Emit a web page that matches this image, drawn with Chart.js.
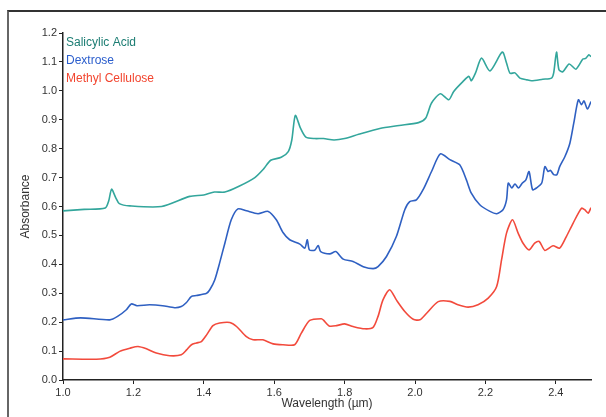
<!DOCTYPE html>
<html>
<head>
<meta charset="utf-8">
<script src="https://cdn.jsdelivr.net/npm/chart.js@4"></script>
<style>
  html, body { margin: 0; padding: 0; background: #fff; overflow: hidden; }
  #wrap { position: relative; width: 606px; height: 417px; }
  #frame { position: absolute; left: 7px; top: 10px; width: 700px; height: 500px;
           border-left: 2px solid #666; border-top: 2px solid #333; }
  canvas { position: absolute; left: 0; top: 0; }
</style>
</head>
<body>
<div id="wrap">
  <div id="frame"></div>
  <canvas id="spectra" width="606" height="417"></canvas>
</div>
<script>
// wavelength (µm) / absorbance readings
const salicylicX = [1.0, 1.06, 1.12, 1.13, 1.138, 1.15, 1.16, 1.19, 1.28, 1.36, 1.40, 1.43, 1.46, 1.50, 1.545, 1.57, 1.59, 1.62, 1.64, 1.65, 1.66, 1.675, 1.69, 1.715, 1.74, 1.77, 1.80, 1.84, 1.90, 1.955, 2.01, 2.03, 2.047, 2.072, 2.096, 2.11, 2.136, 2.153, 2.16, 2.172, 2.189, 2.213, 2.248, 2.26, 2.27, 2.284, 2.298, 2.318, 2.331, 2.363, 2.388, 2.394, 2.402, 2.409, 2.42, 2.438, 2.457, 2.477, 2.485, 2.494, 2.5];
const salicylicY = [0.585, 0.59, 0.595, 0.62, 0.66, 0.63, 0.61, 0.602, 0.60, 0.635, 0.64, 0.65, 0.65, 0.67, 0.70, 0.73, 0.76, 0.77, 0.79, 0.83, 0.915, 0.87, 0.84, 0.835, 0.835, 0.83, 0.835, 0.85, 0.87, 0.88, 0.89, 0.905, 0.958, 0.99, 0.969, 0.998, 1.032, 1.05, 1.035, 1.062, 1.113, 1.069, 1.134, 1.096, 1.061, 1.062, 1.044, 1.038, 1.035, 1.04, 1.044, 1.062, 1.134, 1.073, 1.066, 1.093, 1.075, 1.11, 1.112, 1.125, 1.118];

const dextroseX = [1.0, 1.05, 1.133, 1.155, 1.18, 1.194, 1.21, 1.246, 1.283, 1.317, 1.336, 1.35, 1.365, 1.379, 1.408, 1.417, 1.431, 1.445, 1.46, 1.478, 1.497, 1.521, 1.554, 1.583, 1.606, 1.625, 1.644, 1.673, 1.687, 1.694, 1.70, 1.715, 1.725, 1.732, 1.758, 1.775, 1.796, 1.824, 1.853, 1.881, 1.895, 1.919, 1.947, 1.971, 1.985, 2.004, 2.023, 2.047, 2.072, 2.099, 2.127, 2.146, 2.16, 2.184, 2.213, 2.232, 2.25, 2.26, 2.265, 2.275, 2.284, 2.294, 2.305, 2.315, 2.324, 2.334, 2.345, 2.36, 2.369, 2.378, 2.385, 2.394, 2.403, 2.411, 2.426, 2.44, 2.451, 2.464, 2.473, 2.48, 2.49, 2.5];
const dextroseY = [0.208, 0.215, 0.208, 0.22, 0.243, 0.263, 0.257, 0.26, 0.257, 0.25, 0.254, 0.267, 0.289, 0.292, 0.30, 0.312, 0.346, 0.405, 0.474, 0.554, 0.592, 0.585, 0.575, 0.583, 0.554, 0.51, 0.485, 0.47, 0.456, 0.485, 0.45, 0.449, 0.465, 0.444, 0.436, 0.444, 0.418, 0.41, 0.392, 0.385, 0.392, 0.427, 0.496, 0.589, 0.617, 0.623, 0.658, 0.721, 0.782, 0.762, 0.744, 0.692, 0.646, 0.606, 0.583, 0.575, 0.589, 0.623, 0.681, 0.664, 0.678, 0.664, 0.681, 0.692, 0.721, 0.658, 0.664, 0.681, 0.738, 0.721, 0.725, 0.71, 0.71, 0.738, 0.773, 0.819, 0.888, 0.969, 0.952, 0.965, 0.937, 0.963];

const methylX = [1.0, 1.095, 1.133, 1.161, 1.19, 1.213, 1.237, 1.265, 1.303, 1.336, 1.351, 1.365, 1.379, 1.393, 1.408, 1.426, 1.445, 1.474, 1.493, 1.521, 1.54, 1.568, 1.597, 1.625, 1.658, 1.677, 1.701, 1.734, 1.74, 1.756, 1.777, 1.80, 1.824, 1.857, 1.881, 1.895, 1.909, 1.928, 1.947, 1.971, 1.995, 2.014, 2.033, 2.066, 2.099, 2.122, 2.151, 2.179, 2.208, 2.232, 2.246, 2.26, 2.277, 2.293, 2.307, 2.324, 2.34, 2.353, 2.369, 2.392, 2.411, 2.43, 2.449, 2.473, 2.482, 2.492, 2.5];
const methylY = [0.073, 0.072, 0.079, 0.099, 0.11, 0.116, 0.108, 0.093, 0.084, 0.087, 0.104, 0.122, 0.128, 0.133, 0.156, 0.188, 0.197, 0.199, 0.185, 0.15, 0.139, 0.139, 0.125, 0.122, 0.122, 0.162, 0.206, 0.212, 0.207, 0.187, 0.188, 0.194, 0.185, 0.177, 0.182, 0.22, 0.277, 0.312, 0.277, 0.237, 0.21, 0.208, 0.231, 0.271, 0.272, 0.26, 0.252, 0.26, 0.283, 0.323, 0.416, 0.508, 0.554, 0.508, 0.473, 0.45, 0.473, 0.479, 0.448, 0.464, 0.456, 0.496, 0.542, 0.594, 0.589, 0.577, 0.596];

const xTicks = [1.0, 1.2, 1.4, 1.6, 1.8, 2.0, 2.2, 2.4];
const yTicks = [0.0, 0.1, 0.2, 0.3, 0.4, 0.5, 0.6, 0.7, 0.8, 0.9, 1.0, 1.1, 1.2];

const seriesNames = ["Salicylic Acid", "Dextrose", "Methyl Cellulose"];
const lineColors = ["#33a69c", "#2f60c2", "#f24a3c"];
const textColors = ["#1c7d73", "#2a5dcc", "#f2452f"];

const FONT = "'Liberation Sans', Arial, sans-serif";

function pairs(xs, ys) {
  return xs.map((x, i) => ({ x, y: ys[i] }));
}

function makeSeries(idx, xs, ys) {
  return {
    label: seriesNames[idx],
    data: pairs(xs, ys),
    borderColor: lineColors[idx],
    borderWidth: 1.6,
    pointRadius: 0,
    tension: 0.25,
    fill: false
  };
}

// names drawn in the top-left of the plot, in their series colour
const innerLegend = {
  id: "innerLegend",
  afterDraw(chart) {
    const ctx = chart.ctx;
    const area = chart.chartArea;
    ctx.save();
    ctx.font = "12px " + FONT;
    ctx.textBaseline = "middle";
    chart.data.datasets.forEach((ds, i) => {
      ctx.fillStyle = textColors[i];
      ctx.fillText(ds.label, area.left + 3, 43 + i * 18);
    });
    ctx.restore();
  }
};

const axisColor = "#222";
const tickFont = { family: FONT, size: 11 };

new Chart(document.getElementById("spectra"), {
  type: "line",
  data: {
    datasets: [
      makeSeries(0, salicylicX, salicylicY),
      makeSeries(1, dextroseX, dextroseY),
      makeSeries(2, methylX, methylY)
    ]
  },
  options: {
    responsive: false,
    animation: false,
    layout: { padding: { top: 33, right: 15, bottom: 0, left: 0 } },
    plugins: { legend: { display: false }, tooltip: { enabled: false } },
    scales: {
      x: {
        type: "linear",
        min: 1.0,
        max: 2.5,
        afterBuildTicks: (scale) => { scale.ticks = xTicks.map((v) => ({ value: v })); },
        afterFit: (scale) => { scale.height = 37; },
        ticks: { color: "#333", font: tickFont, padding: 2, maxRotation: 0,
                 callback: (v) => Number(v).toFixed(1) },
        grid: { drawOnChartArea: false, drawTicks: true, tickLength: 4, color: axisColor },
        border: { display: true, color: axisColor, width: 1.5 },
        title: { display: true, text: "Wavelength (µm)", color: "#333",
                 font: { family: FONT, size: 12 }, padding: { top: 0, bottom: 6 } }
      },
      y: {
        type: "linear",
        min: 0,
        max: 1.2,
        afterBuildTicks: (scale) => { scale.ticks = yTicks.map((v) => ({ value: v })); },
        afterFit: (scale) => { scale.width = 63; },
        ticks: { color: "#333", font: tickFont, padding: 2,
                 callback: (v) => Number(v).toFixed(1) },
        grid: { drawOnChartArea: false, drawTicks: true, tickLength: 4, color: axisColor },
        border: { display: true, color: axisColor, width: 1.5 },
        title: { display: true, text: "Absorbance", color: "#333",
                 font: { family: FONT, size: 12 }, padding: { top: 18, bottom: 0 } }
      }
    }
  },
  plugins: [innerLegend]
});
</script>
</body>
</html>
